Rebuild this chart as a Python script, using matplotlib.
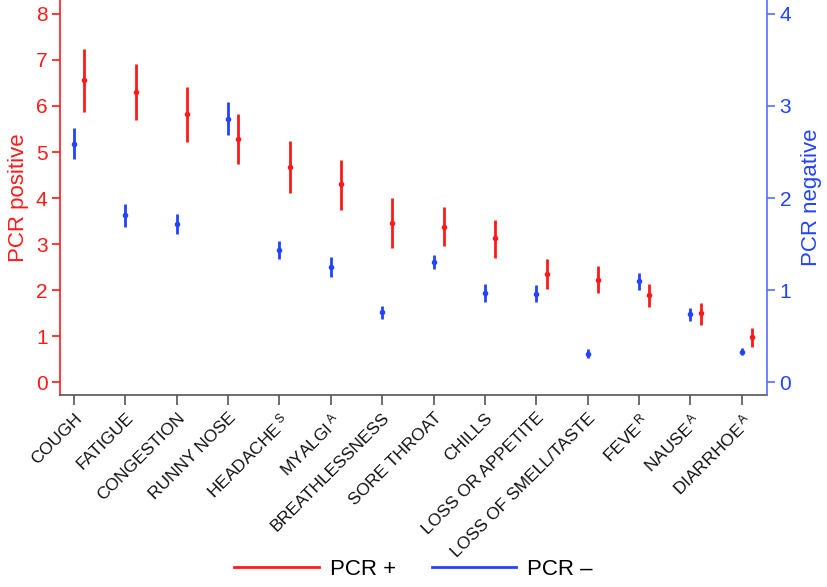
import matplotlib

matplotlib.use("Agg")
import matplotlib.pyplot as plt
from matplotlib.lines import Line2D
import numpy as np

plt.rcParams["font.family"] = ["Liberation Sans", "DejaVu Sans"]
plt.rcParams["mathtext.fontset"] = "custom"
plt.rcParams["mathtext.it"] = "Liberation Sans"
plt.rcParams["mathtext.rm"] = "Liberation Sans"

symptoms = [
    "COUGH", "FATIGUE", "CONGESTION", "RUNNY NOSE", r"HEADACHE$\,^{S}$", r"MYALGI$\,^{A}$",
    "BREATHLESSNESS", "SORE THROAT", "CHILLS", "LOSS OR APPETITE", "LOSS OF SMELL/TASTE",
    r"FEVE$\,^{R}$", r"NAUSE$\,^{A}$", r"DIARRHOE$\,^{A}$",
]

# PCR positive (left axis)
pos_mid = [6.56, 6.30, 5.82, 5.29, 4.67, 4.30, 3.45, 3.38, 3.12, 2.35, 2.22, 1.89, 1.49, 0.98]
pos_lo = [5.88, 5.70, 5.22, 4.73, 4.11, 3.75, 2.91, 2.95, 2.70, 2.03, 1.93, 1.64, 1.24, 0.76]
pos_hi = [7.23, 6.91, 6.41, 5.83, 5.23, 4.83, 4.00, 3.80, 3.53, 2.67, 2.52, 2.13, 1.72, 1.17]

# PCR negative (right axis)
neg_mid = [2.59, 1.81, 1.72, 2.86, 1.43, 1.25, 0.76, 1.30, 0.97, 0.96, 0.31, 1.10, 0.74, 0.33]
neg_lo = [2.42, 1.68, 1.61, 2.68, 1.34, 1.14, 0.69, 1.23, 0.87, 0.87, 0.26, 1.00, 0.66, 0.29]
neg_hi = [2.76, 1.94, 1.83, 3.04, 1.53, 1.36, 0.83, 1.38, 1.07, 1.05, 0.36, 1.18, 0.81, 0.37]

RED = "#ff1a1a"
BLUE = "#2343ff"
AXBLUE = "#5a6cff"

x = np.arange(len(symptoms))
fig = plt.figure(figsize=(8.27, 5.87), dpi=100)
ax = fig.add_axes([0.0726, 0.327, 0.8549, 0.673])
ax2 = ax.twinx()

pm = np.array(pos_mid)
ax.errorbar(x + 0.2, pm, yerr=[pm - np.array(pos_lo), np.array(pos_hi) - pm],
            fmt="o", color=RED, ecolor=RED, elinewidth=2.0, markersize=3.0, capsize=0, zorder=3)
nm = np.array(neg_mid)
ax2.errorbar(x, nm, yerr=[nm - np.array(neg_lo), np.array(neg_hi) - nm],
             fmt="o", color=BLUE, ecolor=BLUE, elinewidth=2.0, markersize=3.0, capsize=0, zorder=3)

ax.set_xlim(-0.27, 13.49)
ax.set_ylim(-0.283, 8.304)
ax2.set_ylim(-0.1415, 4.152)
ax.set_yticks(range(0, 9))
ax2.set_yticks(range(0, 5))

for a in (ax, ax2):
    a.spines["top"].set_visible(False)
ax.spines["right"].set_visible(False)
ax2.spines["left"].set_visible(False)
ax2.spines["bottom"].set_visible(False)
ax.spines["left"].set_color(RED)
ax.spines["left"].set_linewidth(1.2)
ax2.spines["right"].set_color(AXBLUE)
ax2.spines["right"].set_linewidth(1.2)
ax.spines["bottom"].set_color("#555555")
ax.spines["bottom"].set_linewidth(1.2)

ax.tick_params(axis="y", colors=RED, labelsize=15, length=6, width=1.2, pad=3)
ax2.tick_params(axis="y", colors=BLUE, labelsize=15, length=6, width=1.2, pad=3, color=AXBLUE)
ax.tick_params(axis="x", color="#555555", length=7, width=1.2, pad=4)

ax.set_xticks(x)
ax.set_xticklabels(symptoms, rotation=45, ha="right", rotation_mode="anchor",
                   fontsize=12.5, color="#111111")

ax.set_ylabel("PCR positive", color=RED, fontsize=16, labelpad=5)
ax2.set_ylabel("PCR negative", color=BLUE, fontsize=16, labelpad=7)

handles = [
    Line2D([0], [0], color=RED, linewidth=2, label="PCR +"),
    Line2D([0], [0], color=BLUE, linewidth=2, label="PCR \u2013"),
]
fig.legend(handles=handles, loc="center", bbox_to_anchor=(0.5, 0.03), ncol=2, frameon=False,
           fontsize=16, handlelength=3.8, columnspacing=1.6, handletextpad=0.5)

fig.savefig("out.png", dpi=100)
